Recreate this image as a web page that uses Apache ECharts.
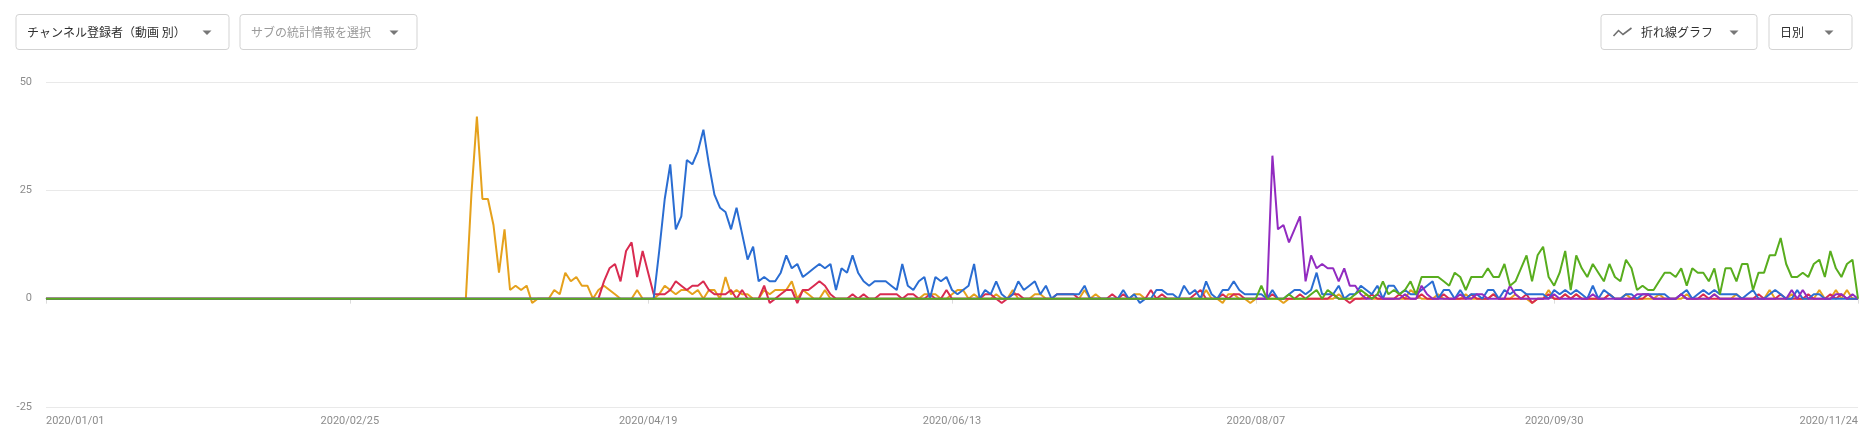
<!DOCTYPE html>
<html>
<head>
<meta charset="utf-8">
<script src="https://cdn.jsdelivr.net/npm/echarts@6/dist/echarts.min.js"></script>
<style>
  html, body { margin: 0; padding: 0; background: #fff; }
  #main { width: 1876px; height: 447px; }
</style>
</head>
<body>
<div id="main"></div>
<script>
// 日別の登録者数（2020/01/01 〜 2020/11/24）
const startDate = "2020/01/01";
const tickLabels = ["2020/01/01", "2020/02/25", "2020/04/19", "2020/06/13", "2020/08/07", "2020/09/30", "2020/11/24"];
const yTicks = [-25, 0, 25, 50];

const seriesNames = ["動画A", "動画B", "動画C", "動画D", "動画E"];
const colors = ["#e5a11c", "#d92b50", "#2a6dd2", "#922bc0", "#58ad1e"];

const orange = [
  0,0,0,0,0,0,0,0,0,0,0,0,0,0,0,0,0,0,0,0,
  0,0,0,0,0,0,0,0,0,0,0,0,0,0,0,0,0,0,0,0,
  0,0,0,0,0,0,0,0,0,0,0,0,0,0,0,0,0,0,0,0,
  0,0,0,0,0,0,0,0,0,0,0,0,0,0,0,0,0,24,42,23,
  23,17,6,16,2,3,2,3,-1,0,0,0,2,1,6,4,5,3,3,0,
  2,3,2,1,0,0,0,2,0,0,0,1,3,2,1,2,2,1,2,0,
  2,2,0,5,1,2,1,1,0,0,2,1,2,2,2,4,0,2,1,0,
  0,2,0,0,0,0,0,0,0,0,0,0,0,0,0,0,0,0,0,1,
  1,1,0,0,1,2,2,0,1,0,0,0,1,0,0,2,0,0,0,1,
  1,0,0,0,0,0,0,0,2,0,1,0,0,0,0,0,0,1,1,0,
  0,0,0,0,0,0,0,0,0,0,2,0,0,-1,1,1,0,0,-1,0,
  0,0,0,0,-1,0,0,0,0,0,0,0,0,0,1,0,0,0,0,1,
  0,0,0,0,0,0,0,2,1,0,0,0,1,0,0,0,0,1,0,0,
  0,0,1,0,0,0,1,0,0,-1,0,0,2,0,0,1,0,1,0,0,
  0,0,0,1,0,0,1,0,0,0,0,0,1,0,0,0,0,1,0,0,
  0,0,1,0,0,0,1,0,0,0,0,0,2,0,0,0,1,0,0,0,
  0,2,0,0,2,0,2,0,0
];

const red = [
  0,0,0,0,0,0,0,0,0,0,0,0,0,0,0,0,0,0,0,0,
  0,0,0,0,0,0,0,0,0,0,0,0,0,0,0,0,0,0,0,0,
  0,0,0,0,0,0,0,0,0,0,0,0,0,0,0,0,0,0,0,0,
  0,0,0,0,0,0,0,0,0,0,0,0,0,0,0,0,0,0,0,0,
  0,0,0,0,0,0,0,0,0,0,0,0,0,0,0,0,0,0,0,0,
  0,4,7,8,4,11,13,5,11,6,1,1,1,2,4,3,2,3,3,4,
  2,1,1,1,2,0,2,0,0,0,3,-1,0,1,2,2,-1,2,2,3,
  4,3,1,0,0,0,1,0,1,0,0,1,1,1,1,0,1,1,0,0,
  1,0,0,2,0,0,0,0,0,0,1,1,0,-1,0,1,1,0,0,0,
  0,0,0,1,1,1,1,0,0,0,0,0,0,1,0,1,0,0,0,0,
  2,0,1,0,0,0,0,0,1,2,0,0,0,1,0,1,1,0,0,0,
  0,0,1,0,0,0,0,1,0,0,0,0,0,1,0,0,-1,0,0,0,
  1,0,0,0,0,1,0,0,0,1,0,0,0,1,0,0,0,0,1,0,
  0,0,1,0,0,0,0,0,1,-1,0,0,1,0,0,1,0,1,0,0,
  0,0,0,1,0,0,0,0,0,0,1,0,0,0,0,0,1,0,0,0,
  1,0,0,0,0,0,0,0,0,0,1,0,0,0,1,0,0,0,0,1,
  0,0,0,1,0,1,0,0,0
];

const blue = [
  0,0,0,0,0,0,0,0,0,0,0,0,0,0,0,0,0,0,0,0,
  0,0,0,0,0,0,0,0,0,0,0,0,0,0,0,0,0,0,0,0,
  0,0,0,0,0,0,0,0,0,0,0,0,0,0,0,0,0,0,0,0,
  0,0,0,0,0,0,0,0,0,0,0,0,0,0,0,0,0,0,0,0,
  0,0,0,0,0,0,0,0,0,0,0,0,0,0,0,0,0,0,0,0,
  0,0,0,0,0,0,0,0,0,0,0,11,23,31,16,19,32,31,34,39,
  31,24,21,20,16,21,15,9,12,4,5,4,4,6,10,7,8,5,6,7,
  8,7,8,2,7,6,10,6,4,3,4,4,4,3,2,8,3,2,4,5,
  0,5,4,5,2,1,2,3,8,0,2,1,4,1,0,1,4,2,3,4,
  1,3,0,1,1,1,1,1,3,0,0,0,0,0,0,2,0,1,-1,0,
  0,2,2,1,1,0,3,1,2,0,4,1,0,2,2,4,2,1,1,1,
  1,0,2,0,0,1,2,2,1,2,6,1,1,1,3,0,1,1,3,2,
  1,3,0,3,3,1,2,1,1,2,3,4,0,2,2,0,2,0,1,1,
  0,2,2,0,2,1,2,2,1,1,1,1,0,2,1,2,1,2,1,0,
  3,0,2,1,0,0,1,1,0,1,1,1,1,1,0,0,1,2,0,1,
  2,1,2,1,1,1,1,0,1,2,0,0,1,2,1,0,0,2,0,0,
  1,1,0,0,0,0,0,0,0
];

const purple = [
  0,0,0,0,0,0,0,0,0,0,0,0,0,0,0,0,0,0,0,0,
  0,0,0,0,0,0,0,0,0,0,0,0,0,0,0,0,0,0,0,0,
  0,0,0,0,0,0,0,0,0,0,0,0,0,0,0,0,0,0,0,0,
  0,0,0,0,0,0,0,0,0,0,0,0,0,0,0,0,0,0,0,0,
  0,0,0,0,0,0,0,0,0,0,0,0,0,0,0,0,0,0,0,0,
  0,0,0,0,0,0,0,0,0,0,0,0,0,0,0,0,0,0,0,0,
  0,0,0,0,0,0,0,0,0,0,0,0,0,0,0,0,0,0,0,0,
  0,0,0,0,0,0,0,0,0,0,0,0,0,0,0,0,0,0,0,0,
  0,0,0,0,0,0,0,0,0,0,0,0,0,0,0,0,0,0,0,0,
  0,0,0,0,0,0,0,0,0,0,0,0,0,0,0,0,0,0,0,0,
  0,0,0,0,0,0,0,0,0,0,0,0,0,0,0,0,0,0,0,0,
  0,0,33,16,17,13,16,19,4,10,7,8,7,7,4,7,3,3,1,0,
  0,1,0,0,0,0,1,0,0,3,1,0,0,0,0,0,1,0,0,1,
  1,0,0,0,0,3,1,0,0,0,0,0,0,1,0,0,0,0,0,0,
  1,0,0,0,0,0,0,0,1,1,1,0,0,0,0,0,1,0,0,0,
  0,0,1,0,0,0,0,0,0,0,0,0,0,0,0,0,2,0,2,0,
  0,0,0,0,1,1,0,1,0
];

const green = [
  0,0,0,0,0,0,0,0,0,0,0,0,0,0,0,0,0,0,0,0,
  0,0,0,0,0,0,0,0,0,0,0,0,0,0,0,0,0,0,0,0,
  0,0,0,0,0,0,0,0,0,0,0,0,0,0,0,0,0,0,0,0,
  0,0,0,0,0,0,0,0,0,0,0,0,0,0,0,0,0,0,0,0,
  0,0,0,0,0,0,0,0,0,0,0,0,0,0,0,0,0,0,0,0,
  0,0,0,0,0,0,0,0,0,0,0,0,0,0,0,0,0,0,0,0,
  0,0,0,0,0,0,0,0,0,0,0,0,0,0,0,0,0,0,0,0,
  0,0,0,0,0,0,0,0,0,0,0,0,0,0,0,0,0,0,0,0,
  0,0,0,0,0,0,0,0,0,0,0,0,0,0,0,0,0,0,0,0,
  0,0,0,0,0,0,0,0,0,0,0,0,0,0,0,0,0,0,0,0,
  0,0,0,0,0,0,0,0,0,0,0,0,0,0,0,0,0,0,0,0,
  3,0,0,0,0,1,0,0,0,1,2,0,2,1,0,0,0,1,2,1,
  0,1,4,1,2,1,2,4,1,5,5,5,5,4,3,6,5,2,5,5,
  5,7,5,5,8,3,4,7,10,4,10,12,5,3,6,11,2,10,7,5,
  8,6,4,8,5,4,9,7,2,3,2,2,4,6,6,5,7,3,7,6,
  6,4,7,1,7,7,4,8,8,2,6,6,10,10,14,8,5,5,6,5,
  8,9,5,11,7,5,8,9,0
];

// 日付カテゴリ
const dates = [];
(function () {
  const p = startDate.split("/").map(Number);
  const d0 = Date.UTC(p[0], p[1] - 1, p[2]);
  for (let i = 0; i < blue.length; i++) {
    const d = new Date(d0 + i * 86400000);
    const mm = String(d.getUTCMonth() + 1).padStart(2, "0");
    const dd = String(d.getUTCDate()).padStart(2, "0");
    dates.push(`${d.getUTCFullYear()}/${mm}/${dd}`);
  }
})();

const allData = [orange, red, blue, purple, green];
const isTick = (index, value) => tickLabels.indexOf(value) > -1;

// 上部のドロップダウン
function dropdown(x, w, label, textColor, arrowX, textX) {
  return [
    {
      type: "rect",
      shape: { x: x + 0.5, y: 14.5, width: w, height: 35, r: 3 },
      style: { fill: "#fff", stroke: "#d3d3d3", lineWidth: 1 },
    },
    {
      type: "text",
      x: textX,
      y: 32.5,
      style: {
        text: label,
        fill: textColor,
        font: '12px "Noto Sans CJK JP"',
        verticalAlign: "middle",
      },
    },
    {
      type: "polygon",
      shape: { points: [[arrowX - 4.5, 30.5], [arrowX + 4.5, 30.5], [arrowX, 35]] },
      style: { fill: "#777" },
    },
  ];
}

const chart = echarts.init(document.getElementById("main"), null, { renderer: "canvas" });
const option = {
  animation: false,
  color: colors,
  grid: { left: 46, right: 18, top: 82, bottom: 40 },
  xAxis: {
    type: "category",
    data: dates,
    boundaryGap: false,
    axisLine: { lineStyle: { color: "#9e9e9e", width: 1 } },
    axisTick: { show: true, interval: isTick, length: 5, lineStyle: { color: "#dcdcdc" } },
    axisLabel: {
      interval: isTick,
      color: "#8c8c8c",
      fontFamily: "Roboto",
      fontSize: 11,
      margin: 9,
      alignMinLabel: "left",
      alignMaxLabel: "right",
    },
    splitLine: { show: false },
  },
  yAxis: {
    type: "value",
    min: yTicks[0],
    max: yTicks[yTicks.length - 1],
    interval: 25,
    axisLine: { show: false },
    axisTick: { show: false },
    axisLabel: { color: "#8c8c8c", fontFamily: "Roboto", fontSize: 11, margin: 14 },
    splitLine: { lineStyle: { color: "#e9e9e9", width: 1 } },
  },
  series: allData.map((data, i) => ({
    name: seriesNames[i],
    type: "line",
    data: data,
    showSymbol: false,
    symbol: "none",
    lineStyle: { width: 2, color: colors[i] },
    z: 2 + i,
  })),
  graphic: [
    ...dropdown(15.5, 213, "チャンネル登録者（動画 別）", "#303030", 207, 27),
    ...dropdown(239.5, 177, "サブの統計情報を選択", "#9a9a9a", 394, 251),
    ...dropdown(1600.5, 156, "折れ線グラフ", "#303030", 1734, 1641),
    ...dropdown(1768.5, 83, "日別", "#303030", 1829, 1780),
    {
      type: "polyline",
      shape: { points: [[1613.5, 36], [1618.5, 30.5], [1623, 34.5], [1631.5, 28]] },
      style: { stroke: "#6f6f6f", lineWidth: 1.6, fill: null },
    },
  ],
};
chart.setOption(option);
</script>
</body>
</html>
